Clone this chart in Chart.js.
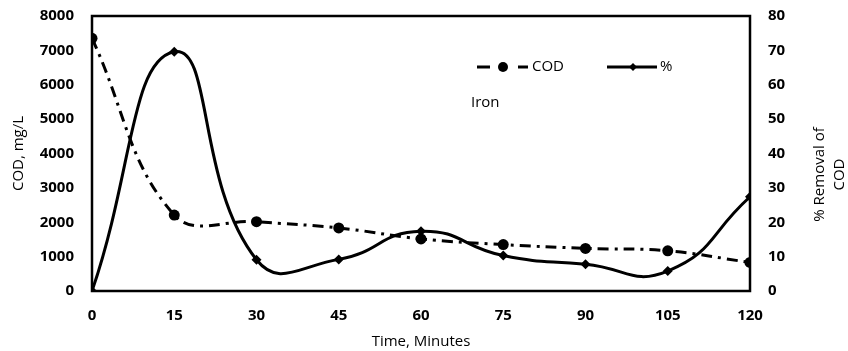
<!DOCTYPE html>
<html>
<head>
<meta charset="utf-8">
<script src="https://cdn.jsdelivr.net/npm/chart.js@4.4.1/dist/chart.umd.min.js"></script>
<style>
    html, body { margin: 0; padding: 0; background: #fff; }
    #wrap { width: 848px; height: 351px; position: relative; }
</style>
</head>
<body>
<div id="wrap"><canvas id="codChart"></canvas></div>
<script>
// Sampling times and measurements
const minutes = [0, 15, 30, 45, 60, 75, 90, 105, 120];
const codValues = [7350, 2210, 2015, 1835, 1515, 1350, 1240, 1170, 830];
const removalPct = [0, 69.6, 9.1, 9.2, 17.4, 10.3, 7.8, 5.8, 27.4];
const codTicks = [0, 1000, 2000, 3000, 4000, 5000, 6000, 7000, 8000];
const pctTicks = [0, 10, 20, 30, 40, 50, 60, 70, 80];
const pctTitle = ['% Removal of', 'COD'];

const FONT = '"Open Sans", "DejaVu Sans", sans-serif';
const COD_DASH = [11, 6, 3, 6];
const TICK_FONT = { family: FONT, size: 15, weight: 'bold' };

const toPoints = (ys) => minutes.map((m, i) => ({ x: m, y: ys[i] }));
const plain = (v) => String(v);
// fixed side width, no extra room reserved for the top/bottom labels
const fitSide = (w) => (s) => { s.width = w; s.paddingTop = 0; s.paddingBottom = 0; };

// frame around the plot, legend, "Iron" caption, right-hand title
const framePlugin = {
    id: 'frame',
    afterDraw(chart) {
        const { ctx, chartArea: a } = chart;
        ctx.save();
        ctx.strokeStyle = '#000';
        ctx.fillStyle = '#000';
        ctx.lineWidth = 2.5;
        ctx.strokeRect(a.left, a.top, a.right - a.left, a.bottom - a.top);

        // legend: COD
        const ly = 67;
        ctx.lineWidth = 3;
        ctx.beginPath();
        ctx.moveTo(477, ly); ctx.lineTo(490, ly);
        ctx.moveTo(518, ly); ctx.lineTo(528, ly);
        ctx.stroke();
        ctx.beginPath();
        ctx.arc(503, ly, 5, 0, Math.PI * 2);
        ctx.fill();

        // legend: %
        ctx.beginPath();
        ctx.moveTo(607, ly); ctx.lineTo(657, ly);
        ctx.stroke();
        ctx.beginPath();
        ctx.moveTo(633, ly - 4); ctx.lineTo(637, ly); ctx.lineTo(633, ly + 4); ctx.lineTo(629, ly);
        ctx.closePath();
        ctx.fill();

        ctx.font = '15px ' + FONT;
        ctx.textBaseline = 'middle';
        ctx.textAlign = 'left';
        ctx.fillText(chart.data.datasets[0].label, 532, ly);
        ctx.fillText(chart.data.datasets[1].label, 660, ly);
        ctx.fillText('Iron', 471, 103);

        // right axis title, reading bottom to top
        ctx.textAlign = 'center';
        ctx.translate(830, (a.top + a.bottom) / 2 + 21);
        ctx.rotate(-Math.PI / 2);
        ctx.fillText(pctTitle[0], 0, -10);
        ctx.fillText(pctTitle[1], 0, 10);
        ctx.restore();
    }
};

const ctx = document.getElementById('codChart').getContext('2d');
new Chart(ctx, {
    type: 'line',
    data: {
        datasets: [
            {
                label: 'COD',
                data: toPoints(codValues),
                yAxisID: 'yCod',
                borderColor: '#000',
                backgroundColor: '#000',
                borderWidth: 3,
                borderDash: COD_DASH,
                tension: 0.4,
                pointStyle: 'circle',
                pointRadius: 5.5,
                pointBorderWidth: 0
            },
            {
                label: '%',
                data: toPoints(removalPct),
                yAxisID: 'yPct',
                borderColor: '#000',
                backgroundColor: '#000',
                borderWidth: 3,
                tension: 0.5,
                pointStyle: 'rectRot',
                pointRadius: 5,
                pointBorderWidth: 0
            }
        ]
    },
    options: {
        responsive: true,
        maintainAspectRatio: false,
        animation: false,
        layout: { padding: { top: 16, left: 0, right: 0, bottom: 0 } },
        plugins: {
            legend: { display: false },
            tooltip: { enabled: false }
        },
        scales: {
            x: {
                type: 'linear',
                min: 0,
                max: 120,
                grid: { display: false },
                border: { display: false },
                afterBuildTicks: (s) => { s.ticks = minutes.map(v => ({ value: v })); },
                ticks: { padding: 8, color: '#000', font: TICK_FONT, callback: plain },
                title: {
                    display: true,
                    text: 'Time, Minutes',
                    color: '#000',
                    padding: { top: 6, bottom: 0 },
                    font: { family: FONT, size: 15 }
                },
                afterFit: (s) => { s.height = 60; }
            },
            yCod: {
                position: 'left',
                min: 0,
                max: 8000,
                grid: { display: false },
                border: { display: false },
                afterBuildTicks: (s) => { s.ticks = codTicks.map(v => ({ value: v })); },
                ticks: { padding: 10, color: '#000', font: TICK_FONT, callback: plain },
                title: {
                    display: true,
                    text: 'COD, mg/L',
                    color: '#000',
                    padding: { top: 10, bottom: 4 },
                    font: { family: FONT, size: 15 }
                },
                afterFit: fitSide(92)
            },
            yPct: {
                position: 'right',
                min: 0,
                max: 80,
                grid: { display: false },
                border: { display: false },
                afterBuildTicks: (s) => { s.ticks = pctTicks.map(v => ({ value: v })); },
                ticks: { padding: 10, color: '#000', font: TICK_FONT, callback: plain },
                afterFit: fitSide(98)
            }
        }
    },
    plugins: [framePlugin]
});
</script>
</body>
</html>
